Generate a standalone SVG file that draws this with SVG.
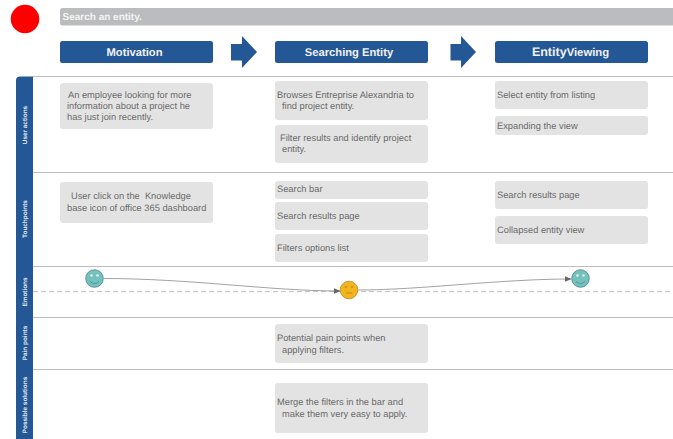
<svg xmlns="http://www.w3.org/2000/svg" width="673" height="439" viewBox="0 0 673 439">
<style>
text{font-family:"Liberation Sans",Arial,sans-serif;text-rendering:geometricPrecision}
.card{fill:#e3e3e3}
.t{font-size:9.3px;fill:#6a6a6a;white-space:pre}
.hd{fill:#235796}
.ht{font-size:11.2px;font-weight:bold;fill:#f2f2f2;text-anchor:middle}
.ln{stroke:#bdbdbd;stroke-width:1;fill:none}
.lane{font-size:6.4px;font-weight:bold;fill:#e8edf4;text-anchor:middle}
.conn{stroke:#8a8a8a;stroke-width:.8;fill:none;marker-end:url(#a)}
.g{fill:#73c2bb;stroke:#4e7f95;stroke-width:.8}
.y{fill:#f2b61c;stroke:#b98a2c;stroke-width:.8}
.f{fill:none;stroke-width:.7}
</style>
<defs><marker id="a" markerUnits="userSpaceOnUse" markerWidth="7" markerHeight="6" refX="6.5" refY="3" orient="auto"><path d="M0 0L7 3L0 6z" fill="#666"/></marker></defs>
<rect width="673" height="439" fill="#fff"/>
<circle id="status" cx="25" cy="19" r="14.3" fill="#fe0000"/>
<g id="title"><path d="M673 8H62.500a2.500 2.500 0 0 0-2.500 2.500V23a2.500 2.500 0 0 0 2.500 2.500H673z" fill="#bbbcbd"/><text x="62.500" y="19.500" font-size="10px" font-weight="bold" fill="#f4f4f4">Search an entity.</text></g>
<g id="grid">
<path class="ln" d="M33 76.500H673M33 172.500H673M33 266.500H673M33 317.500H673M33 369.500H673"/>
<path d="M33 291.500H673" stroke="#b5b5b5" stroke-width=".8" stroke-dasharray="5 3" fill="none"/>
</g>
<g id="lane-bar"><path d="M33 76.500H20a4 4 0 0 0-4 4V439H33z" class="hd"/>
<text class="lane" transform="translate(26.500 125) rotate(-90)">User actions</text>
<text class="lane" transform="translate(26.500 219) rotate(-90)">Touchpoints</text>
<text class="lane" transform="translate(26.500 292) rotate(-90)">Emotions</text>
<text class="lane" transform="translate(26.500 343) rotate(-90)">Pain points</text>
<text class="lane" transform="translate(26.500 405) rotate(-90)">Possible solutions</text>
</g>
<g id="h1"><rect class="hd" x="60" y="41" width="153" height="22" rx="2.500"/><text class="ht" x="134.500" y="55.500">Motivation</text></g>
<g id="h2"><rect class="hd" x="275" y="41" width="153" height="22" rx="2.500"/><text class="ht" x="349" y="55.500">Searching Entity</text></g>
<g id="h3"><rect class="hd" x="495" y="41" width="153" height="22" rx="2.500"/><text class="ht" x="570.500" y="56"><tspan font-size="12.500px">Entity</tspan><tspan font-size="11.300px">Viewing</tspan></text></g>
<path id="arrow1" class="hd" d="M231 44H242V36L257 52L242 68V60.500H231z"/>
<path id="arrow2" class="hd" d="M450.500 44H461V36L476 52L461 68V60.500H450.500z"/>
<g id="n1"><rect class="card" x="60" y="83" width="153" height="46" rx="3"/><text class="t"><tspan x="68" y="98">An employee looking for more</tspan><tspan x="67" y="109">information about a project he</tspan><tspan x="67" y="120">has just join recently.</tspan></text></g>
<g id="n2"><rect class="card" x="275" y="81" width="153" height="39" rx="3"/><text class="t"><tspan x="277" y="98">Browses Entreprise Alexandria to</tspan><tspan x="282" y="109">find project entity.</tspan></text></g>
<g id="n3"><rect class="card" x="275" y="125" width="153" height="38" rx="3"/><text class="t"><tspan x="280" y="141">Filter results and identify project</tspan><tspan x="282" y="152">entity.</tspan></text></g>
<g id="n4"><rect class="card" x="495" y="81" width="153" height="28" rx="3"/><text class="t" x="497" y="98">Select entity from listing</text></g>
<g id="n5"><rect class="card" x="495" y="116" width="153" height="19" rx="3"/><text class="t" x="497" y="129">Expanding the view</text></g>
<g id="n6"><rect class="card" x="60" y="182" width="153" height="41" rx="3"/><text class="t"><tspan x="71" y="199">User click on the  Knowledge</tspan><tspan x="67" y="211">base icon of office 365 dashboard</tspan></text></g>
<g id="n7"><rect class="card" x="275" y="181" width="153" height="18" rx="3"/><text class="t" x="277" y="192">Search bar</text></g>
<g id="n8"><rect class="card" x="275" y="202" width="153" height="28" rx="3"/><text class="t" x="277" y="219">Search results page</text></g>
<g id="n9"><rect class="card" x="275" y="234" width="153" height="28" rx="3"/><text class="t" x="277" y="251">Filters options list</text></g>
<g id="n10"><rect class="card" x="495" y="181" width="153" height="28" rx="3"/><text class="t" x="497" y="198">Search results page</text></g>
<g id="n11"><rect class="card" x="495" y="216" width="153" height="28" rx="3"/><text class="t" x="497" y="233">Collapsed entity view</text></g>
<g id="n12"><rect class="card" x="275" y="324" width="153" height="39" rx="3"/><text class="t"><tspan x="277" y="341">Potential pain points when</tspan><tspan x="282" y="353">applying filters.</tspan></text></g>
<g id="n13"><rect class="card" x="275" y="383" width="153" height="50" rx="3"/><text class="t"><tspan x="277" y="405">Merge the filters in the bar and</tspan><tspan x="282" y="417">make them very easy to apply.</tspan></text></g>
<g id="connectors">
<path class="conn" d="M104 278.500C190 278.500 270 291 340 291"/>
<path class="conn" d="M358 290C420 290 500 279 571 279"/>
</g>
<g id="e1"><circle class="g" cx="94.500" cy="278.500" r="8.800"/><path class="f" stroke="#4e7f95" d="M90 281.500Q94.500 285.500 99 281.500"/><circle cx="91.500" cy="275.500" r="1.300" fill="#e6eef2"/><circle cx="97.500" cy="275.500" r="1.300" fill="#e6eef2"/></g>
<g id="e2"><circle class="y" cx="349" cy="290" r="8.800"/><path class="f" stroke="#a87a20" d="M346 293H352"/><circle cx="346" cy="287" r="1.300" fill="#cf9a2a"/><circle cx="352" cy="287" r="1.300" fill="#cf9a2a"/></g>
<g id="e3"><circle class="g" cx="580.500" cy="278.500" r="8.800"/><path class="f" stroke="#4e7f95" d="M576 281.500Q580.500 285.500 585 281.500"/><circle cx="577.500" cy="275.500" r="1.300" fill="#e6eef2"/><circle cx="583.500" cy="275.500" r="1.300" fill="#e6eef2"/></g>
</svg>
